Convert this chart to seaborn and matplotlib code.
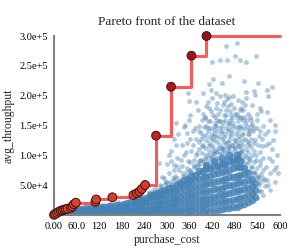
import pandas as pd
import matplotlib
matplotlib.use("Agg")
import matplotlib.pyplot as plt
from matplotlib.colors import LinearSegmentedColormap
import seaborn as sns

# Pareto-optimal configurations (cost, throughput)
front_cost = [0, 3, 8, 13, 18, 22, 27, 31, 36, 45, 49, 53, 58,
              110, 112, 155, 211, 220, 227, 233, 242, 271, 311, 365, 405]
front_tput = [300, 1800, 3500, 5500, 7000, 8000, 9000, 9600, 10500, 12000,
              14500, 18000, 20600, 22000, 26000, 29700, 33600, 36400, 39100,
              43600, 50300, 133000, 215000, 267000, 300000]

# dense core of the cloud: cost column -> throughput values (thousands)
core_columns = {
    5: [0.3, 1.2], 12: [0.5, 2, 3.5], 20: [0.4, 2.5, 4.5], 28: [0.6, 3, 5.5],
    36: [0.5, 3.5, 6.5], 45: [0.8, 4, 7], 55: [0.5, 3, 6, 8.5],
    65: [1, 4, 7, 9.5], 75: [0.6, 3.5, 6.5, 9.5], 85: [1, 4.5, 8, 11],
    95: [0.7, 4, 7.5, 11], 105: [1, 5, 9, 12], 115: [0.8, 4.5, 8.5, 12.5],
    125: [1.2, 5.5, 10, 13.5], 135: [0.9, 5, 9.5, 14], 145: [1.5, 6, 11, 15],
    155: [1, 5.5, 10.5, 15.5], 165: [1.6, 6.5, 12, 17], 175: [1.2, 6, 11.5, 17.5],
    185: [2, 7, 13, 19], 195: [1.4, 6.5, 12.5, 19.5], 205: [2.2, 7.5, 14, 21],
    215: [1.8, 7, 13.5, 20, 23], 225: [2.5, 8, 15, 22, 25],
    235: [2, 7.5, 14, 21, 26], 245: [3, 9, 16, 23, 28],
    255: [2.5, 8.5, 15.5, 23, 30, 33], 265: [3.5, 10, 17, 25, 32, 36],
    275: [3, 9.5, 17, 25, 33, 37], 285: [4, 11, 19, 27, 35, 41],
    295: [3.5, 10.5, 18.5, 27, 36, 42], 305: [4.5, 12, 20, 29, 38, 46],
    315: [4, 11.5, 20, 29, 39, 46], 325: [5, 13, 22, 31, 41, 50],
    335: [4.5, 12.5, 21.5, 31, 41, 50, 53], 345: [5.5, 14, 23, 33, 43, 52, 58],
    355: [5, 13.5, 23, 33, 43, 53, 60], 365: [6, 15, 25, 35, 45, 55, 66],
    375: [5.5, 15, 25, 36, 47, 58, 67], 385: [7, 17, 27, 38, 49, 60, 73],
    395: [6.5, 16.5, 27, 38, 50, 62, 74], 405: [8, 18, 29, 40, 52, 64, 78, 84],
    415: [7.5, 18, 29, 41, 53, 66, 78], 425: [9, 20, 31, 43, 55, 68, 82, 90],
    435: [9, 20, 32, 44, 57, 70, 82], 445: [10, 22, 34, 46, 59, 72, 86, 96],
    455: [11, 23, 35, 48, 61, 74, 86], 465: [12, 24, 37, 50, 63, 76, 90, 100],
    475: [13, 25, 38, 51, 64, 78, 90], 485: [14, 27, 40, 53, 66, 80, 94, 100],
    495: [16, 29, 42, 55, 67, 80, 90], 505: [18, 31, 44, 56, 68, 78],
    515: [21, 33, 46, 58, 70], 525: [25, 37, 49, 60], 535: [30, 42, 54],
}

# scattered points around the core: (cost, throughput in thousands)
spread_points = [
    (70, 12), (95, 14), (130, 17), (150, 19), (170, 21), (200, 24), (215, 27),
    (230, 29), (250, 31), (262, 35), (270, 38), (280, 40), (290, 44), (300, 47),
    (284, 48), (292, 62), (298, 55), (305, 70), (312, 52), (318, 84), (322, 66),
    (328, 95), (300, 86), (310, 108), (325, 117), (332, 75), (318, 128),
    (280, 87), (298, 56), (288, 64), (320, 75),
    (336, 58), (340, 82), (344, 100), (348, 66), (352, 120), (356, 90),
    (360, 74), (364, 108), (368, 140), (372, 84), (376, 128), (378, 100),
    (345, 148), (358, 160), (370, 118),
    (382, 72), (385, 150), (388, 92), (392, 115), (396, 132), (400, 80),
    (402, 165), (405, 100), (408, 145), (412, 120), (415, 88), (418, 175),
    (420, 135), (424, 108), (428, 155), (430, 95), (395, 170), (410, 190),
    (433, 122), (436, 170), (440, 90), (442, 145), (446, 110), (448, 185),
    (452, 130), (455, 160), (458, 98), (462, 140), (465, 115), (468, 175),
    (472, 150), (475, 105), (478, 128), (440, 200), (460, 195),
    (482, 92), (485, 165), (488, 115), (490, 140), (494, 100), (497, 180),
    (500, 125), (503, 88), (506, 155), (510, 110), (514, 135), (518, 95),
    (522, 160), (526, 80), (530, 120),
    (533, 70), (536, 100), (540, 145), (544, 62), (548, 90), (552, 115),
    (556, 75), (560, 135), (565, 58), (570, 95), (575, 70), (580, 110),
    (586, 55), (590, 80), (545, 40), (560, 48), (575, 42),
    (405, 150), (415, 158), (425, 142), (432, 160), (445, 150), (452, 168),
    (458, 145), (466, 155), (474, 162), (482, 148), (490, 158), (498, 145),
    (505, 165), (512, 150), (520, 142), (438, 130), (456, 120), (470, 135),
    (488, 128), (502, 138), (515, 118), (528, 140), (420, 118), (410, 140),
    (398, 148), (390, 128), (384, 110), (425, 125), (445, 128), (462, 108),
    (480, 112), (495, 120), (512, 98), (535, 125), (548, 105), (555, 150),
    (385, 90),
    (395, 75), (405, 85), (415, 78), (428, 88), (438, 80), (448, 92),
    (458, 85), (468, 95), (478, 90), (490, 98), (500, 92), (510, 85),
    (520, 92), (530, 88), (540, 78), (550, 68), (420, 95), (440, 102),
    (455, 105), (470, 100), (485, 105), (500, 108), (435, 112), (465, 125),
    (492, 115),
    (372, 62), (380, 66), (388, 70), (398, 68), (408, 72), (418, 74),
    (428, 76), (438, 78), (448, 82), (458, 84), (468, 86), (478, 84),
    (488, 86), (498, 82), (508, 78), (518, 74), (528, 70), (538, 64),
    (548, 56), (558, 58), (568, 50),
    (376, 80), (386, 84), (396, 88), (406, 94), (416, 98), (426, 102),
    (436, 96), (446, 104), (456, 96), (466, 110), (476, 98), (486, 94),
    (496, 106), (506, 100), (516, 106), (526, 100), (536, 92), (546, 84),
    (556, 96),
    (392, 104), (402, 112), (412, 108), (422, 112), (432, 106), (442, 118),
    (452, 114), (462, 122), (472, 118), (482, 124), (492, 132), (502, 118),
    (512, 124), (522, 128), (532, 108), (542, 118),
    (404, 126), (414, 130), (424, 134), (434, 140), (444, 138), (454, 136),
    (464, 144), (474, 140), (484, 136), (494, 150), (504, 146), (514, 142),
    (524, 150), (544, 132),
    (418, 146), (430, 150), (450, 156), (468, 160), (486, 170), (496, 162),
    (516, 170), (478, 180), (458, 176), (430, 180), (500, 190), (525, 185),
    (550, 175), (575, 160), (583, 125), (592, 100), (596, 70), (588, 140),
    (350, 56), (356, 64), (362, 58), (366, 70), (372, 92), (380, 104),
    (362, 88), (354, 78), (342, 70), (338, 48), (330, 56), (324, 50),
    (316, 62), (308, 48), (302, 40), (294, 38), (286, 36),
    (330, 135), (340, 118), (350, 106), (362, 128), (375, 145), (338, 92),
    (326, 82), (312, 90), (305, 100), (352, 138),
    (384, 122), (391, 138), (397, 118), (403, 134), (409, 158), (413, 116),
    (419, 128), (423, 168), (427, 150), (431, 132), (437, 158), (441, 176),
    (447, 140), (451, 122), (457, 168), (461, 152), (467, 132), (471, 186),
    (476, 154), (481, 170), (484, 120), (489, 148), (493, 164), (499, 134),
    (503, 176), (507, 128), (513, 160), (517, 136), (523, 114), (527, 152),
    (434, 188), (452, 190), (466, 198), (488, 192), (508, 184), (420, 196),
    (404, 182), (392, 160), (386, 140), (444, 112), (474, 118), (496, 110),
    (518, 120), (532, 146), (538, 170), (546, 140), (552, 128), (562, 118),
    (568, 140), (572, 120), (578, 90), (584, 75), (562, 80), (554, 62),
    (252, 38), (262, 42), (272, 45), (282, 50), (296, 52), (308, 56),
    (318, 58), (328, 62), (342, 66), (352, 72), (362, 76), (372, 80),
    (382, 86), (392, 92), (402, 96), (412, 100), (422, 104), (432, 108),
    (448, 110), (462, 114), (478, 112), (492, 104), (502, 96), (514, 88),
    (522, 80), (532, 72), (542, 66), (544, 50), (550, 40), (556, 34), (538, 28),
    (456, 284), (486, 289), (420, 257), (440, 260), (460, 259), (480, 266),
    (493, 259), (511, 256), (536, 267), (464, 233), (422, 228), (504, 224),
    (542, 222), (580, 214), (567, 210), (411, 219), (445, 221), (395, 205),
    (355, 204), (358, 191), (378, 189), (416, 210), (431, 204), (453, 201),
    (476, 199), (511, 206), (531, 207), (533, 201), (509, 196), (569, 199),
    (547, 179), (520, 165), (493, 176), (462, 182), (413, 179), (382, 176),
    (360, 168), (324, 154), (347, 151), (587, 151), (565, 173), (502, 159),
    (427, 165), (440, 157), (471, 168), (400, 162), (540, 159),
]

x_ticks = [0, 60, 120, 180, 240, 300, 360, 420, 480, 540, 600]
x_labels = ["0.00", "60.0", "120", "180", "240", "300", "360", "420", "480", "540", "600"]
y_ticks = [50000, 100000, 150000, 200000, 250000, 300000]
y_labels = ["5.0e+4", "1.0e+5", "1.5e+5", "2.0e+5", "2.5e+5", "3.0e+5"]
x_max = 600
y_max = 300000

sns.set_theme(style="white")
plt.rcParams["font.family"] = ["Liberation Serif", "DejaVu Serif"]

core_df = pd.DataFrame(
    [(c, v * 1000) for c, vals in core_columns.items() for v in vals],
    columns=["purchase_cost", "avg_throughput"],
)
spread_df = pd.DataFrame(
    [(c, v * 1000) for c, v in spread_points],
    columns=["purchase_cost", "avg_throughput"],
)
front_df = pd.DataFrame({"purchase_cost": front_cost, "avg_throughput": front_tput})

# step line runs on to the right edge of the x domain
line_cost = front_cost + [x_max]
line_tput = front_tput + [front_tput[-1]]

fig, ax = plt.subplots(figsize=(3, 2.5), dpi=100)
fig.subplots_adjust(left=0.18, right=0.933, bottom=0.14, top=0.856)

blue = "#4682b4"
sns.scatterplot(data=core_df, x="purchase_cost", y="avg_throughput",
                s=30, color=blue, alpha=0.8, linewidth=0, ax=ax)
sns.scatterplot(data=spread_df, x="purchase_cost", y="avg_throughput",
                s=12, color=blue, alpha=0.42, linewidth=0, ax=ax)

sns.lineplot(x=line_cost, y=line_tput, drawstyle="steps-post", color="#ff2e2e",
             alpha=0.8, linewidth=2.2, ax=ax, clip_on=False, zorder=4)

reds = LinearSegmentedColormap.from_list("front", ["#e0482e", "#b81d1d", "#9c1116"])
sns.scatterplot(data=front_df, x="purchase_cost", y="avg_throughput",
                hue="avg_throughput", palette=reds, hue_norm=(0, y_max),
                s=40, edgecolor="#3a1414", linewidth=0.7, legend=False,
                ax=ax, clip_on=False, zorder=5)

ax.set_xlim(0, x_max)
ax.set_ylim(0, y_max)
ax.set_xticks(x_ticks, x_labels)
ax.set_yticks(y_ticks, y_labels)
# d3-style outer ticks only at the domain ends
ax.set_xticks([0, x_max], minor=True)
ax.set_yticks([0, y_max], minor=True)
ax.tick_params(which="major", length=0, labelsize=7.5, pad=4.5, colors="black")
ax.tick_params(which="minor", length=4, width=1.5, color="#808080")
ax.tick_params(axis="x", which="major", pad=5)

sns.despine(ax=ax)
for side in ["left", "bottom"]:
    ax.spines[side].set_color("#808080")
    ax.spines[side].set_linewidth(1.5)

ax.set_title("Pareto front of the dataset", fontsize=9.5, pad=8)
ax.set_xlabel("purchase_cost", fontsize=8.5, labelpad=2)
ax.set_ylabel("avg_throughput", fontsize=8.5, labelpad=3)

plt.savefig("out.png", dpi=100)
plt.close()
